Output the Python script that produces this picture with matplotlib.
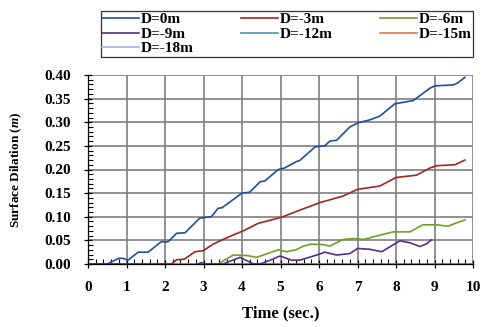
import numpy as np
import matplotlib
matplotlib.use("Agg")
import matplotlib.pyplot as plt
from matplotlib.ticker import MultipleLocator, FormatStrFormatter

plt.rcParams['font.family'] = ['Liberation Serif', 'DejaVu Serif']
plt.rcParams['font.weight'] = 'bold'
plt.rcParams['mathtext.fontset'] = 'custom'
plt.rcParams['mathtext.it'] = 'Liberation Serif:italic:bold'
plt.rcParams['mathtext.rm'] = 'Liberation Serif:bold'

# surface dilation vs time at each depth
t_0 = [0, 0.5, 0.8, 0.9, 1.04, 1.3, 1.56, 1.9, 2.08, 2.3, 2.52, 2.9, 3.2, 3.38, 3.48,
       4.0, 4.2, 4.47, 4.6, 4.94, 5.1, 5.42, 5.5, 5.9, 6.15, 6.28, 6.46, 6.8, 7.02,
       7.32, 7.58, 7.97, 8.45, 8.88, 9.01, 9.49, 9.6, 9.79]
d_0 = [0, 0, 0.012, 0.012, 0.008, 0.025, 0.025, 0.047, 0.047, 0.065, 0.066, 0.097,
       0.100, 0.118, 0.119, 0.150, 0.152, 0.174, 0.176, 0.200, 0.203, 0.217, 0.219,
       0.248, 0.250, 0.260, 0.262, 0.290, 0.299, 0.305, 0.313, 0.339, 0.346, 0.372,
       0.377, 0.379, 0.383, 0.395]

t_3 = [0, 1.9, 2.17, 2.3, 2.5, 2.78, 2.99, 3.25, 3.56, 3.82, 4.08, 4.42, 5.03, 5.5,
       6.03, 6.63, 7.0, 7.58, 8.0, 8.53, 8.88, 9.05, 9.53, 9.79]
d_3 = [0, 0, 0, 0.009, 0.010, 0.026, 0.028, 0.042, 0.054, 0.063, 0.072, 0.086, 0.099,
       0.114, 0.130, 0.144, 0.158, 0.165, 0.183, 0.188, 0.203, 0.208, 0.210, 0.220]

t_6 = [3.38, 3.77, 4.12, 4.38, 4.94, 5.16, 5.4, 5.6, 5.8, 6.1, 6.28, 6.63, 6.9, 7.15,
       7.58, 7.93, 8.36, 8.7, 9.05, 9.35, 9.57, 9.79]
d_6 = [0, 0.019, 0.018, 0.014, 0.030, 0.026, 0.030, 0.038, 0.042, 0.041, 0.038, 0.052,
       0.054, 0.052, 0.061, 0.068, 0.068, 0.083, 0.083, 0.080, 0.087, 0.093]

t_9 = [2.85, 2.95, 3.05, 3.5, 3.95, 4.3, 4.47, 4.73, 4.99, 5.29, 5.5, 5.98, 6.15, 6.46,
       6.8, 7.0, 7.33, 7.63, 8.1, 8.36, 8.62, 8.8, 8.92]
d_9 = [0, 0.003, 0, 0, 0.014, 0, 0, 0.008, 0.017, 0.008, 0.008, 0.020, 0.025, 0.019,
       0.022, 0.033, 0.031, 0.026, 0.049, 0.045, 0.037, 0.043, 0.051]

t_12, d_12 = [], []
t_15, d_15 = [], []
t_18, d_18 = [], []

labels = ['D=0m', 'D=-3m', 'D=-6m', 'D=-9m', 'D=-12m', 'D=-15m', 'D=-18m']
colors = ['#1F4E9E', '#A02424', '#6FA024', '#53308A', '#4A93B3', '#E07A45', '#9DB4DA']
series = [(t_0, d_0), (t_3, d_3), (t_6, d_6), (t_9, d_9),
          (t_12, d_12), (t_15, d_15), (t_18, d_18)]

fig = plt.figure(figsize=(4.84, 3.27), dpi=100)
ax = fig.add_axes([88/484, 1 - 264/327, 385/484, 189/327])

lines = []
for (t, d), lab, c in zip(series, labels, colors):
    ln, = ax.plot(t, d, color=c, lw=1.2, label=lab, zorder=3)
    lines.append(ln)

ax.set_xlim(0, 10)
ax.set_ylim(0, 0.40)
ax.xaxis.set_major_locator(MultipleLocator(1))
ax.xaxis.set_minor_locator(MultipleLocator(0.2))
ax.yaxis.set_major_locator(MultipleLocator(0.05))
ax.yaxis.set_minor_locator(MultipleLocator(0.01))
ax.yaxis.set_major_formatter(FormatStrFormatter('%.2f'))
ax.grid(True, which='major', color='#7F7F7F', lw=1.2, zorder=1)
ax.set_axisbelow(True)

for s in ['top', 'right']:
    ax.spines[s].set_visible(False)
for s in ['left', 'bottom']:
    ax.spines[s].set_color('black')
    ax.spines[s].set_linewidth(0.9)
    ax.spines[s].set_zorder(4)

ax.tick_params(which='major', direction='inout', length=6, width=0.9, labelsize=11, pad=9)
ax.tick_params(which='minor', direction='in', length=3.5, width=0.8)
for lbl in ax.get_xticklabels() + ax.get_yticklabels():
    lbl.set_fontweight('bold')

ax.set_xlabel('Time (sec.)', fontsize=12, fontweight='bold')
ax.set_ylabel(r'Surface Dilation ($\mathit{m}$)', fontsize=9.5, fontweight='bold')
ax.xaxis.set_label_coords(0.5, -0.22)
ax.yaxis.set_label_coords(-0.165, 0.5)

# legend filled row by row: 3 per row
order = [0, 3, 6, 1, 4, 2, 5]
leg = fig.legend(handles=[lines[i] for i in order], loc='upper left', ncol=3,
                 bbox_to_anchor=(101/484, 1 - 59/327, 372/484, 47.5/327), mode='expand',
                 fontsize=11, frameon=True, fancybox=False, edgecolor='black',
                 handlelength=2.4, handletextpad=0.15, labelspacing=0.05,
                 borderpad=0.08, borderaxespad=0, columnspacing=1.0)
leg.get_frame().set_linewidth(0.9)
for txt in leg.get_texts():
    txt.set_fontweight('bold')

fig.savefig('out.png', dpi=100)
